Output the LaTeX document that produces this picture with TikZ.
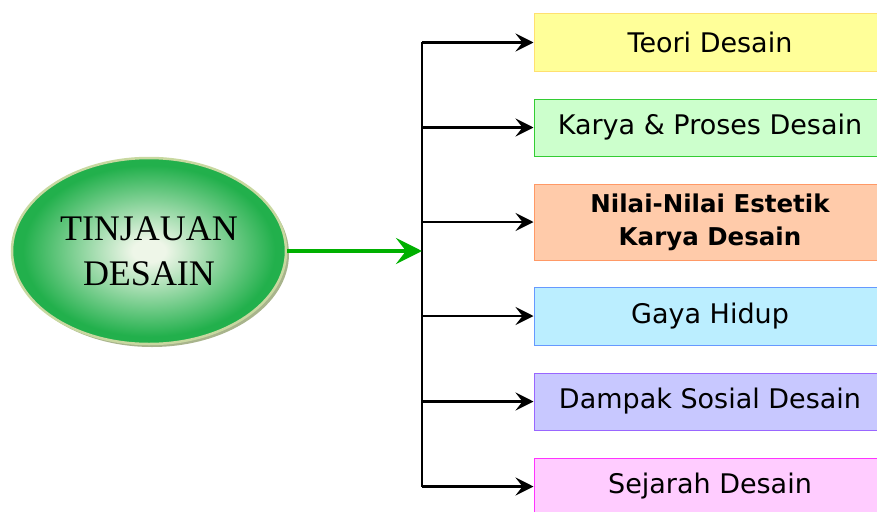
\documentclass[tikz,border=0pt]{standalone}
\usepackage{fontspec}
\setmainfont{Liberation Serif}
\newfontfamily\boxfont{DejaVu Sans}
\usetikzlibrary{shapes.geometric,arrows.meta,calc}
\definecolor{ygfill}{HTML}{FFFF99}\definecolor{ygdraw}{HTML}{FFE070}
\definecolor{grfill}{HTML}{CCFFCC}\definecolor{grdraw}{HTML}{33CC33}
\definecolor{orfill}{HTML}{FFCBAA}\definecolor{ordraw}{HTML}{FF9966}
\definecolor{blfill}{HTML}{BBEEFF}\definecolor{bldraw}{HTML}{6699FF}
\definecolor{pufill}{HTML}{C8C8FF}\definecolor{pudraw}{HTML}{9966FF}
\definecolor{pkfill}{HTML}{FFCCFF}\definecolor{pkdraw}{HTML}{FF33FF}
\definecolor{ellin}{HTML}{EEF6E8}\definecolor{ellout}{HTML}{22B04C}
\definecolor{ellrim}{HTML}{C8D8A0}\definecolor{ellshadow}{HTML}{A8B48C}
\definecolor{arrgreen}{HTML}{00B000}
\pgfdeclareradialshading{ellshade}{\pgfpoint{0bp}{0bp}}{color(0bp)=(ellin); color(3bp)=(ellin); color(23bp)=(ellout); color(50bp)=(ellout)}
\tikzset{
  topic/.style={rectangle, minimum width=352pt, minimum height=57pt, line width=1pt, inner sep=0pt, font=\boxfont\fontsize{27}{32}\selectfont, align=center},
  branch/.style={line width=2.8pt, -{Stealth[length=18pt,width=18pt,inset=7pt]}},
  trunkline/.style={line width=2.8pt},
}
\begin{document}
\begin{tikzpicture}[x=1pt,y=-1pt]
\useasboundingbox (0,0) rectangle (877,511);
\clip (0,0) rectangle (877,511);
% ellipse shadow and ellipse
\fill[ellshadow] (152,254) ellipse [x radius=137, y radius=93];
\node[ellipse, minimum width=274pt, minimum height=186pt, inner sep=0pt,
  shading=ellshade, draw=ellrim, line width=2.5pt,
  align=center, font=\fontsize{36}{46}\selectfont] (ell) at (149,251) {\raisebox{-3pt}{TINJAUAN}\\\raisebox{-2pt}{DESAIN}};
% topic boxes
\node[topic, fill=ygfill, draw=ygdraw] (b1) at (710,42.5) {Teori Desain};
\node[topic, fill=grfill, draw=grdraw] (b2) at (710,127.5) {Karya \& Proses Desain};
\node[topic, fill=orfill, draw=ordraw, minimum height=76pt, font=\boxfont\bfseries\fontsize{24.5}{33}\selectfont] (b3) at (710,222) {Nilai-Nilai Estetik\\ Karya Desain};
\node[topic, fill=blfill, draw=bldraw, minimum height=58pt] (b4) at (710,316) {Gaya Hidup};
\node[topic, fill=pufill, draw=pudraw] (b5) at (710,401.5) {Dampak Sosial Desain};
\node[topic, fill=pkfill, draw=pkdraw] (b6) at (710,486.5) {Sejarah Desain};
% trunk
\coordinate (trunk) at (422,251);
\draw[trunkline] (trunk |- b1.west) -- (trunk |- b6.west);
\draw[line width=4.5pt, arrgreen, -{Stealth[length=26pt,width=26pt,inset=10pt]}] (ell.east) -- (trunk);
\foreach \b in {b1,b2,b3,b4,b5,b6}
  \draw[branch] (trunk |- \b.west) -- (\b.west);
\end{tikzpicture}
\end{document}
